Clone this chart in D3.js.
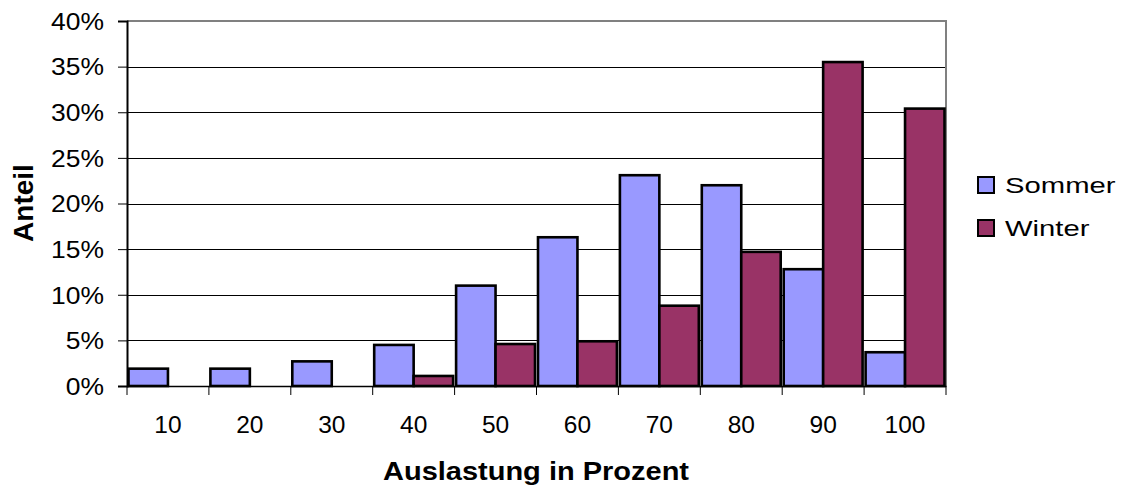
<!DOCTYPE html>
<html>
<head>
<meta charset="utf-8">
<script src="https://cdn.jsdelivr.net/npm/d3@7"></script>
<style>
  html, body { margin: 0; padding: 0; background: #fff; }
  svg { display: block; font-family: "Liberation Sans", Arial, sans-serif; }
</style>
</head>
<body>
<svg id="chart" width="1125" height="491"></svg>
<script>
// Auslastung (Prozent-Klassen) und Anteil je Saison
const categories = ["10", "20", "30", "40", "50", "60", "70", "80", "90", "100"];
const sommer = [1.9, 1.9, 2.7, 4.5, 11.0, 16.3, 23.1, 22.0, 12.8, 3.7];
const winter = [0, 0, 0, 1.1, 4.6, 4.9, 8.8, 14.7, 35.5, 30.4];
const seriesNames = ["Sommer", "Winter"];
const seriesColors = ["#9999FF", "#993366"];
const yTicks = [0, 5, 10, 15, 20, 25, 30, 35, 40];

const svg = d3.select("#chart");
const plot = { left: 127, right: 946, top: 21, bottom: 386 };

const x = d3.scaleBand()
  .domain(categories)
  .range([plot.left, plot.right])
  .paddingInner(0)
  .paddingOuter(0);

const inner = d3.scaleBand()
  .domain(seriesNames)
  .range([1.5, x.bandwidth() - 1.5])
  .paddingInner(0);

const y = d3.scaleLinear()
  .domain([0, 40])
  .range([plot.bottom, plot.top]);

// horizontal gridlines
svg.append("g")
  .selectAll("line")
  .data(yTicks.filter(t => t > 0 && t < 40))
  .join("line")
  .attr("x1", plot.left)
  .attr("x2", plot.right)
  .attr("y1", d => Math.round(y(d)) + 0.5)
  .attr("y2", d => Math.round(y(d)) + 0.5)
  .attr("stroke", "#000")
  .attr("stroke-width", 1);

// top and right frame of plot area
svg.append("path")
  .attr("d", `M${plot.left},${plot.top} H${plot.right} V${plot.bottom}`)
  .attr("fill", "none")
  .attr("stroke", "#808080")
  .attr("stroke-width", 2);

// bars
const rows = categories.map((c, i) => ({ cat: c, values: [sommer[i], winter[i]] }));
const groups = svg.append("g")
  .selectAll("g")
  .data(rows)
  .join("g")
  .attr("transform", d => `translate(${x(d.cat)},0)`);

groups.selectAll("rect")
  .data(d => d.values.map((v, k) => ({ name: seriesNames[k], value: v, color: seriesColors[k] })).filter(e => e.value > 0))
  .join("rect")
  .attr("x", d => inner(d.name))
  .attr("width", inner.bandwidth())
  .attr("y", d => y(d.value))
  .attr("height", d => y(0) - y(d.value))
  .attr("fill", d => d.color)
  .attr("stroke", "#000")
  .attr("stroke-width", 2.6);

// y axis
const yAxis = d3.axisLeft(y)
  .tickValues(yTicks)
  .tickSize(9)
  .tickFormat(d => d + "%");
const yg = svg.append("g")
  .attr("transform", `translate(${plot.left},0)`)
  .call(yAxis);
yg.select(".domain").attr("stroke", "#000").attr("stroke-width", 2);
yg.selectAll(".tick line").attr("stroke", "#000");
yg.selectAll(".tick text")
  .attr("x", 0)
  .attr("dy", "0.36em")
  .attr("font-size", 23)
  .attr("fill", "#000")
  .attr("text-anchor", "end")
  .attr("transform", "translate(-23,0) scale(1.15,1)");

// x axis with ticks on category boundaries
const xAxis = d3.axisBottom(x).tickSize(0).tickSizeOuter(0);
const xg = svg.append("g")
  .attr("transform", `translate(0,${plot.bottom})`)
  .call(xAxis);
xg.select(".domain").attr("stroke", "#000").attr("stroke-width", 1.5);
xg.selectAll(".tick text")
  .attr("y", 47)
  .attr("dy", 0)
  .attr("font-size", 24.5)
  .attr("fill", "#000");
xg.selectAll("line.bound")
  .data(d3.range(categories.length + 1))
  .join("line")
  .attr("class", "bound")
  .attr("x1", i => (i < categories.length ? x(categories[i]) : plot.right))
  .attr("x2", i => (i < categories.length ? x(categories[i]) : plot.right))
  .attr("y1", 0)
  .attr("y2", 9)
  .attr("stroke", "#000");

// axis titles
svg.append("text")
  .attr("transform", "translate(536,480) scale(1.16,1)")
  .attr("text-anchor", "middle")
  .attr("font-size", 25)
  .attr("font-weight", "bold")
  .text("Auslastung in Prozent");

svg.append("text")
  .attr("transform", "translate(33,203) rotate(-90)")
  .attr("text-anchor", "middle")
  .attr("font-size", 28)
  .attr("font-weight", "bold")
  .text("Anteil");

// legend
const legend = svg.append("g")
  .selectAll("g")
  .data(seriesNames)
  .join("g")
  .attr("transform", (d, i) => `translate(978,${177 + i * 43})`);
legend.append("rect")
  .attr("width", 16)
  .attr("height", 16)
  .attr("fill", (d, i) => seriesColors[i])
  .attr("stroke", "#000")
  .attr("stroke-width", 2);
legend.append("text")
  .attr("transform", "translate(27,15.5) scale(1.33,1)")
  .attr("font-size", 22)
  .text(d => d);
</script>
</body>
</html>
